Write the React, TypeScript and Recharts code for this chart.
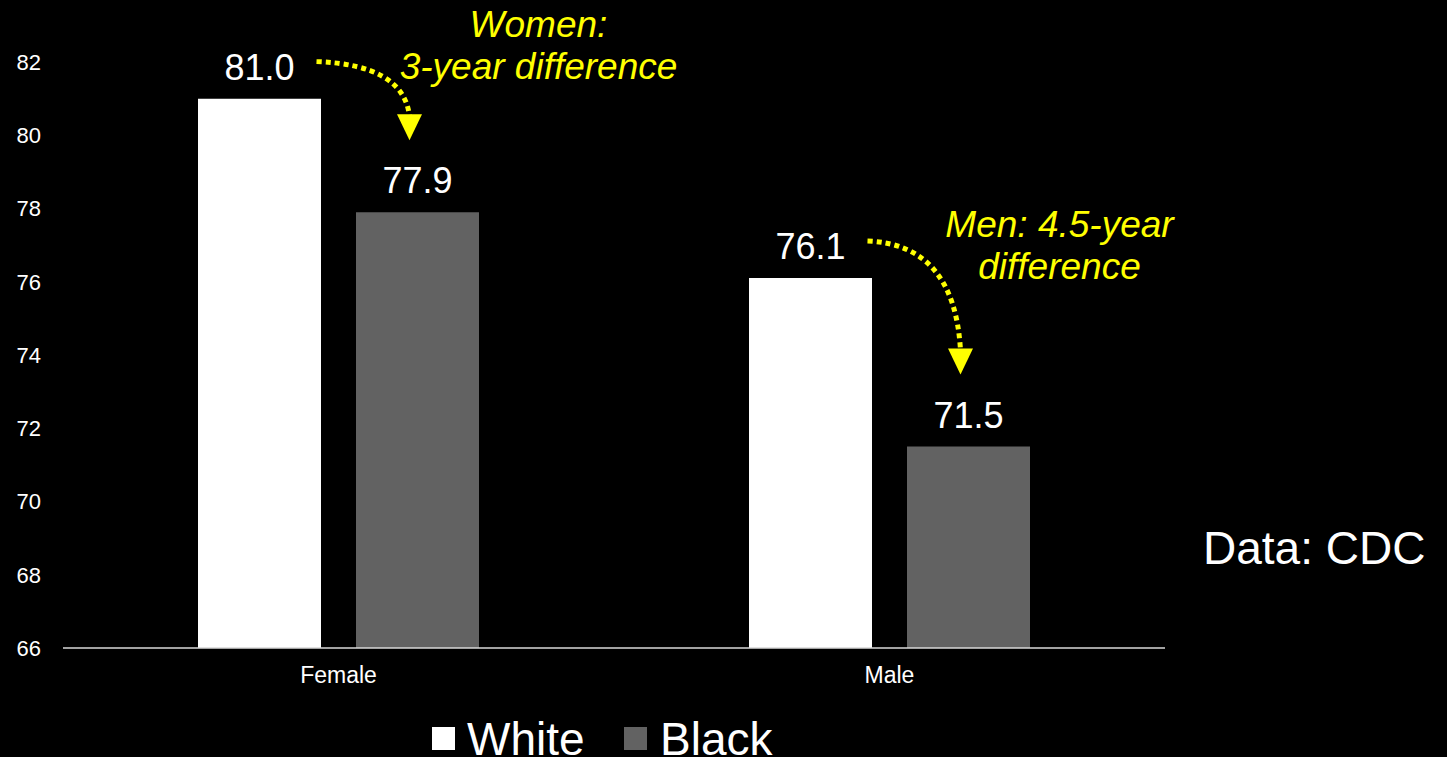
import React from 'react';
import { BarChart, Bar, XAxis, YAxis, LabelList, Legend, Customized } from 'recharts';

// Life expectancy at birth, by sex and race
const categories = ['Female', 'Male'];
const whiteValues = [81.0, 76.1];
const blackValues = [77.9, 71.5];
const yTicks = [66, 68, 70, 72, 74, 76, 78, 80, 82];
const seriesNames = ['White', 'Black'];
const noteLines = [
  ['Women:', '3-year difference'],
  ['Men: 4.5-year', 'difference'],
];
const sourceText = 'Data: CDC';

const data = categories.map((c, i) => ({ group: c, white: whiteValues[i], black: blackValues[i] }));

const FONT = '"Liberation Sans", Arial, Helvetica, sans-serif';
const YELLOW = '#FFFF00';
const GRAY = '#626262';
const Y_MIN = 66;
const Y_MAX = 82;
const BAR_SIZE = 123;
const BAR_GAP = 35;

// Note text placement, relative to the top centre of the Black bar
const noteOffsets = [
  { dx: 121, dy: -175 },
  { dx: 91, dy: -210 },
];

const fmt = (v: any) => Number(v).toFixed(1);

// Black bar label: value, plus the dotted arrow from the White value and the note
const BlackLabel = (props: any) => {
  const vb = props.viewBox && props.viewBox.width != null ? props.viewBox : props;
  const x = Number(vb.x);
  const y = Number(vb.y);
  const width = Number(vb.width);
  const height = Number(vb.height);
  const value = Number(props.value);
  let index = props.index;
  if (index == null) index = blackValues.indexOf(value);
  const pxPerUnit = height / (value - Y_MIN);
  const whiteTop = y + height - (whiteValues[index] - Y_MIN) * pxPerUnit;
  const bx = x + width / 2;
  const wx = x - BAR_GAP - width / 2;

  const start = { x: wx + 57, y: whiteTop - 37 };
  const tip = { x: bx - 8, y: y - 72 };
  const headH = 26;
  const headW = 25;
  const end = { x: tip.x, y: tip.y - headH + 2 };
  const ctrl = { x: end.x - 6, y: start.y + 3 };
  const off = noteOffsets[index] || { dx: 0, dy: -180 };
  const lines = noteLines[index] || [];

  return (
    <g>
      <text x={bx} y={y - 19} textAnchor="middle" fill="#ffffff" fontSize={36} fontFamily={FONT}>
        {fmt(value)}
      </text>
      <path
        d={`M${start.x},${start.y} Q${ctrl.x},${ctrl.y} ${end.x},${end.y}`}
        fill="none"
        stroke={YELLOW}
        strokeWidth={5}
        strokeDasharray="5 4"
      />
      <polygon
        points={`${tip.x - headW / 2},${tip.y - headH} ${tip.x + headW / 2},${tip.y - headH} ${tip.x},${tip.y}`}
        fill={YELLOW}
      />
      {lines.map((t, i) => (
        <text
          key={i}
          x={bx + off.dx}
          y={y + off.dy + i * 42}
          textAnchor="middle"
          fill={YELLOW}
          fontSize={37}
          fontStyle="italic"
          fontFamily={FONT}
        >
          {t}
        </text>
      ))}
    </g>
  );
};

const LegendBox = () => (
  <svg width={420} height={45} style={{ display: 'block' }}>
    <rect x={7} y={15} width={23} height={23} fill="#ffffff" />
    <text x={42} y={43} fill="#ffffff" fontSize={46} fontFamily={FONT}>
      {seriesNames[0]}
    </text>
    <rect x={199} y={15} width={23} height={23} fill={GRAY} />
    <text x={235} y={43} fill="#ffffff" fontSize={46} fontFamily={FONT}>
      {seriesNames[1]}
    </text>
  </svg>
);

const SourceNote = () => (
  <text x={1203} y={564} fill="#ffffff" fontSize={46} fontFamily={FONT}>
    {sourceText}
  </text>
);

export default function App() {
  return (
    <div
      style={{
        position: 'fixed',
        left: 0,
        top: 0,
        width: 1447,
        height: 757,
        background: '#000000',
        overflow: 'hidden',
        fontFamily: FONT,
      }}
    >
      <BarChart
        width={1447}
        height={757}
        data={data}
        margin={{ top: 62, right: 282, bottom: 79, left: 0 }}
        barSize={BAR_SIZE}
        barGap={BAR_GAP}
      >
        <XAxis
          dataKey="group"
          height={30}
          axisLine={{ stroke: '#d9d9d9', strokeWidth: 1.5 }}
          tickLine={false}
          tickSize={0}
          tickMargin={19}
          tick={{ fill: '#ffffff', fontSize: 23, fontFamily: FONT }}
          interval={0}
        />
        <YAxis
          type="number"
          domain={[Y_MIN, Y_MAX]}
          ticks={yTicks}
          allowDataOverflow
          width={63}
          axisLine={false}
          tickLine={false}
          tickSize={0}
          tickMargin={22}
          tick={{ fill: '#ffffff', fontSize: 22, fontFamily: FONT }}
        />
        <Bar dataKey="white" name={seriesNames[0]} fill="#ffffff" isAnimationActive={false}>
          <LabelList
            dataKey="white"
            position="top"
            offset={19}
            formatter={fmt}
            fill="#ffffff"
            fontSize={36}
            fontFamily={FONT}
          />
        </Bar>
        <Bar dataKey="black" name={seriesNames[1]} fill={GRAY} isAnimationActive={false}>
          <LabelList dataKey="black" content={BlackLabel} />
        </Bar>
        <Legend
          verticalAlign="middle"
          align="center"
          wrapperStyle={{ top: 712, left: 425, width: 420, height: 45 }}
          content={LegendBox}
        />
        <Customized component={SourceNote} />
      </BarChart>
    </div>
  );
}
